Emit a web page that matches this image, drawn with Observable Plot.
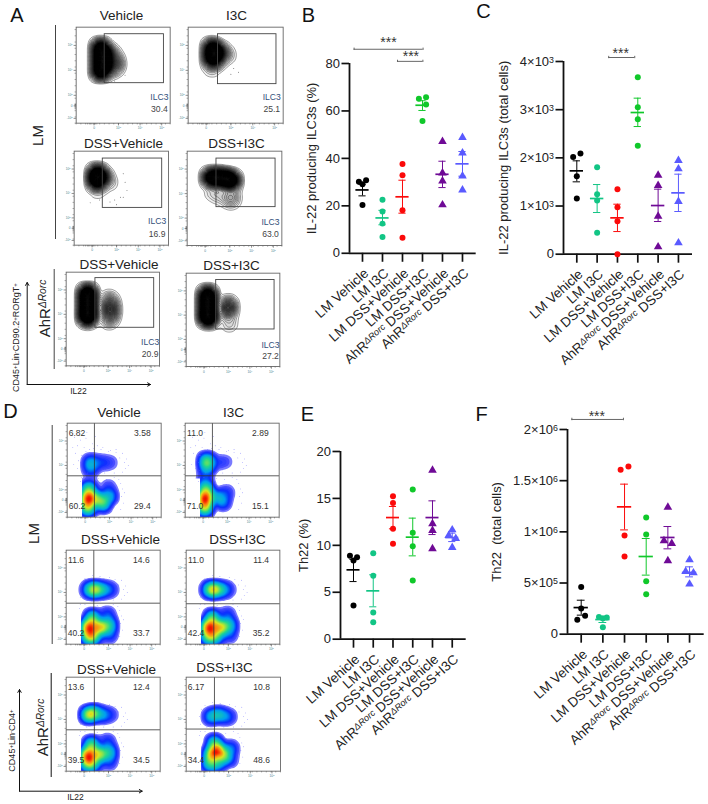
<!DOCTYPE html>
<html><head><meta charset="utf-8">
<script src="https://cdn.jsdelivr.net/npm/d3@7"></script>
<script src="https://cdn.jsdelivr.net/npm/@observablehq/plot@0.6"></script>
<style>html,body{margin:0;padding:0;background:#fff}#page{position:relative;width:708px;height:804px;overflow:hidden}</style>
</head><body><div id="page"></div>
<script>
const groupLabels = ["LM Vehicle","LM I3C","LM DSS+Vehicle","LM DSS+I3C","AhR^{ΔRorc} DSS+Vehicle","AhR^{ΔRorc} DSS+I3C"];
const groupColors = ["#000000","#12c585","#fb0a0a","#10c82a","#6f0a96","#5a5aff"];

// Panel B
const valuesB = [[30.1,30.8,29.1,20.4],[22.6,17.6,12.5,6.9],[37.6,32.9,18.1,6.5],[65.1,65.8,62.7,55.8],[47.1,33.8,30.5,20.4],[48.8,42.3,32.6,26.7]];
const swarmB  = [[-.18,.18,0,0],[0,0,0,0],[0,0,0,0],[-.18,.18,.18,0],[0,0,0,0],[0,0,0,0]];
const meanB = [26.7,14.9,23.8,62.4,33.3,37.7];
const upperB = [29.1,18.1,30.8,64.3,38.8,42.9];
const lowerB = [24.2,12,16.9,60.2,27.7,32.5];
const ticksB = [0,20,40,60,80];
const tickLabelsB = ["0","20","40","60","80"];
const bracketsB = [{a:-.42,b:3.03,v:86,sx:1.3,sv:89.6},{a:1.75,b:3.02,v:80.9,sx:2.42,sv:83.6}];

// Panel C
const valuesC = [[2020,2090,1620,1156],[1806,1246,1114,443],[1350,976,685,0],[3675,3052,2803,2249],[1640,1425,789,152],[1945,1771,1093,235]];
const swarmC  = [[-.18,.18,0,0],[0,0,0,0],[0,0,0,0],[0,0,0,0],[0,0,0,0],[0,0,0,0]];
const meanC = [1730,1156,754,2941,1010,1273];
const upperC = [1938,1446,1038,3239,1350,1661];
const lowerC = [1502,865,470,2650,678,886];
const ticksC = [0,1000,2000,3000,4000];
const tickLabelsC = ["0","1×10^{3}","2×10^{3}","3×10^{3}","4×10^{3}"];
const bracketsC = [{a:1.57,b:2.85,v:4083,sx:2.16,sv:4210}];

// Panel E
const valuesE = [[8.88,8.74,8.38,3.59],[9.16,6.75,2.84,1.81],[15.24,14.5,11.76,10.16],[15.95,11.33,9.91,6.25],[18,12.3,11.58,9.63],[11.65,11.05,10.73,9.77]];
const swarmE  = [[-.18,.18,0,0],[0,0,0,0],[0,0,0,0],[0,0,0,0],[0,0,0,0],[0,-.18,.18,0]];
const meanE = [7.39,5.15,12.96,10.87,12.96,10.83];
const upperE = [8.5,6.86,14.14,12.9,14.74,11.3];
const lowerE = [6.14,3.45,11.76,8.88,11.15,10.4];
const ticksE = [0,5,10,15,20];
const tickLabelsE = ["0","5","10","15","20"];
const bracketsE = [];

// Panel F
const valuesF = [[462e3,251e3,179e3,140e3],[169e3,163e3,153e3,68e3],[1606e3,1638e3,964e3,759e3],[1140e3,974e3,518e3,391e3],[1241e3,912e3,886e3,717e3],[726e3,612e3,599e3,489e3]];
const swarmF  = [[0,0,.18,-.18],[-.18,.18,0,0],[-.18,.18,0,0],[0,0,0,0],[0,-.18,.18,0],[0,-.18,.18,0]];
const meanF = [260e3,143e3,1244e3,759e3,945e3,603e3];
const upperF = [332e3,175e3,1466e3,935e3,1052e3,658e3];
const lowerF = [186e3,114e3,1019e3,577e3,834e3,560e3];
const ticksF = [0,5e5,1e6,1.5e6,2e6];
const tickLabelsF = ["0","5×10^{5}","1×10^{6}","1.5×10^{6}","2×10^{6}"];
const bracketsF = [{a:-.43,b:1.95,v:2.098e6,sx:.72,sv:2.15e6}];

// Flow panels: populations as [x %, y %, weight]
const popA1 = [[26,78,3],[26,66,3],[26,54,3],[31,72,1.5],[31,60,1.5],[41,68,.4],[41,62,.55],[39,55,.35],[37,74,.4],[44,60,.25]];
const popA2 = [[25,78,3],[25,68,3],[31,75,2],[31,66,1],[24,58,.35],[42,70,.25],[38,74,.4],[28,54,.06]];
const popA3 = [[24,76,3],[24,68,3],[30,74,1],[34,70,.35],[39,66,.15],[24,56,.15],[32,58,.05]];
const popA4 = [[25,72,3],[33,72,3],[41,71,3],[47,69,3],[26,56,.22],[32,52,.15],[38,52,.18],[47,54,.4],[48,48,.3],[44,46,.15]];
const popA5 = [[23,77,3],[23,66,3],[23,55,3],[23,50,1],[46,72,.3],[48,66,.5],[48,60,.6],[48,54,.5],[46,48,.3],[40,62,.3]];
const popA6 = [[23,76,3],[23,65,3],[23,54,3],[24,50,1],[45,66,.8],[45,60,.7],[46,46,.25],[38,58,.1]];
const specksA1 = [[52,50],[41,44]];
const specksA2 = [[48,57],[53,53],[45,51]];
const specksA3 = [[52,76],[54,67],[56,58],[49,51],[43,48],[38,46],[45,43],[52,51],[17,45],[27,48]];
const specksNone = [];
const popD1 = [[25,58,.8],[25,50,.4],[36,58,.35],[46,58,.2],[22,10,2],[22,20,3],[23,30,1.5],[32,20,1.4],[38,14,1.3],[45,22,.8],[44,32,.25]];
const popD2 = [[23,60,1.4],[23,52,.8],[34,58,.2],[43,59,.15],[21,40,.3],[21,10,2],[21,20,3],[22,30,1.5],[33,22,.7],[40,16,.6],[44,26,.3]];
const popD3 = [[30,58,1.5],[24,58,.6],[38,58,.8],[47,58,.35],[24,18,2.6],[24,8,1.5],[28,28,1.3],[36,18,2],[46,20,1],[30,8,1],[46,10,.4],[44,31,.4]];
const popD4 = [[29,58,1.5],[24,58,.7],[37,58,.9],[45,58,.25],[24,18,2.6],[24,8,1.5],[28,28,1.3],[36,18,2],[46,20,.9],[32,8,1],[46,10,.35],[44,31,.35]];
const popD5 = [[24,60,1.7],[30,62,.9],[38,60,.6],[47,60,.25],[23,17,2.6],[23,8,1.5],[27,28,1.4],[35,18,1.8],[46,20,.9],[30,8,.8],[46,10,.35],[44,31,.35]];
const popD6 = [[26,58,.9],[34,60,1],[42,58,.6],[48,58,.15],[27,18,2.6],[25,8,1.5],[34,22,2.4],[30,30,1.6],[40,16,1.7],[47,24,.7],[34,8,1],[47,12,.35]];
// Sparse events around the clusters, shared by the plots of panel D, and the loose upper-left events of the LM plots
const specksRim = [[15,42],[14,38],[57,36],[59,30],[58,22],[60,15],[57,8],[61,26],[55,40],[50,42],[20,42],[33,41],[42,40],[61,58],[63,62],[59,68],[52,69],[46,71],[36,72],[28,73],[20,70],[16,66],[14,58],[15,50],[65,55],[59,48],[50,47],[40,47],[30,46],[22,47],[56,63],[62,52]];
const specksLoose = [[8,85],[14,82],[20,84],[27,78],[11,76],[18,74],[24,72],[9,68],[15,66],[12,60],[32,76],[38,74],[44,70],[52,72],[21,90],[30,86],[6,74],[11,52],[7,56]];

const ilc3Percent = ["30.4","25.1","16.9","63.0","20.9","27.2"];
const th22Percent = [["6.82","3.58","60.2","29.4"],["11.0","2.89","71.0","15.1"],["11.6","14.6","40.2","33.7"],["11.0","11.4","42.4","35.2"],["13.6","12.4","39.5","34.5"],["6.17","10.8","34.4","48.6"]];
const flowMajorX = [19,45,68,91];
const flowMajorY = [5,18,29,55,81];
const flowLabelsX = ["0","10^{3}","10^{4}","10^{5}"];
const flowLabelsY = ["-10^{3}","0","10^{3}","10^{4}","10^{5}"];

const FONT = "'Liberation Sans', Arial, sans-serif";
const page = document.getElementById("page");

function rich(svg){
  d3.select(svg).selectAll("text").each(function(){
    const s = this.textContent;
    if(!s.includes("^{")) return;
    const parts = s.split(/\^\{(.*?)\}/);
    const el = d3.select(this); el.text(null);
    parts.forEach((p,i)=>{
      if(!p) return;
      const t = el.append("tspan").text(p);
      if(i%2){ t.attr("font-size","68%").attr("baseline-shift","38%");
        if(/[A-Za-z]/.test(p)) t.attr("font-style","italic"); }
    });
  });
  return svg;
}
function place(svg,left,top,w,h){
  rich(svg);
  Object.assign(svg.style,{position:"absolute",left:left+"px",top:top+"px",background:"none",overflow:"visible",maxWidth:"none"});
  if(w){svg.style.width=w+"px";svg.style.height=h+"px";}
  page.appendChild(svg);
}

function dotPanel(c){
  const {values,swarm,mean,upper,lower,ticks,tickLabels,brackets,yLabel,axisX,end,tick0,step,top,bottom,max,labelX,labelDy=18} = c;
  const mL=85,mR=10,mT=36,mB=130;
  const w=mL+(end-axisX)+mR, h=mT+(bottom-top)+mB;
  const pts=[]; values.forEach((vs,i)=>vs.forEach((v,j)=>pts.push({i,g:groupLabels[i],x:i+swarm[i][j],v})));
  const summ=groupLabels.map((g,i)=>({i,g,m:mean[i],u:upper[i],l:lower[i]}));
  const tf=d=>tickLabels[ticks.indexOf(d)];
  const idx=d3.range(6);
  const svg=Plot.plot({
    width:w,height:h,marginLeft:mL,marginRight:mR,marginTop:mT,marginBottom:mB,
    style:{fontFamily:FONT,color:"#111"},
    x:{domain:[-(tick0-axisX)/step,(end-tick0)/step],axis:null},
    y:{domain:[0,max],axis:null},
    color:{domain:groupLabels,range:groupColors},
    marks:[
      Plot.axisY({ticks,tickFormat:tf,tickSize:7.5,tickPadding:2,fontSize:13,label:null,strokeWidth:1.7,stroke:"#111",fill:"#222"}),
      Plot.axisX({ticks:idx,tickFormat:()=>"",tickSize:9,label:null,strokeWidth:1.7,stroke:"#111"}),
      Plot.ruleX([-(tick0-axisX)/step],{stroke:"#111",strokeWidth:1.8}),
      Plot.ruleY([0],{stroke:"#111",strokeWidth:1.8}),
      Plot.dot(pts.filter(d=>d.i<4),{x:"x",y:"v",r:3,fill:"g"}),
      Plot.dot(pts.filter(d=>d.i>=4),{x:"x",y:"v",r:3.2,symbol:"triangle",fill:"g"}),
      Plot.ruleX(summ,{x:"i",y1:"l",y2:"u",stroke:"g",strokeWidth:1}),
      Plot.ruleY(summ,{y:"m",x1:d=>d.i-.33,x2:d=>d.i+.33,stroke:"g",strokeWidth:1.7}),
      Plot.ruleY(summ,{y:"u",x1:d=>d.i-.18,x2:d=>d.i+.18,stroke:"g",strokeWidth:1}),
      Plot.ruleY(summ,{y:"l",x1:d=>d.i-.18,x2:d=>d.i+.18,stroke:"g",strokeWidth:1}),
      Plot.ruleY(brackets,{y:"v",x1:"a",x2:"b",stroke:"#666",strokeWidth:1}),
      Plot.ruleX(brackets,{x:"a",y1:d=>d.v-max*.006,y2:d=>d.v+max*.006,stroke:"#666",strokeWidth:1}),
      Plot.ruleX(brackets,{x:"b",y1:d=>d.v-max*.006,y2:d=>d.v+max*.006,stroke:"#666",strokeWidth:1}),
      Plot.text(brackets,{x:"sx",y:"sv",text:()=>"***",fontSize:14,fill:"#333",dy:2}),
      Plot.text(idx,{x:d=>d,y:()=>0,text:d=>groupLabels[d],textAnchor:"end",rotate:-42,fontSize:13.5,dx:4,dy:labelDy,fill:"#222"}),
      Plot.text([yLabel],{frameAnchor:"left",textAnchor:"middle",rotate:-90,dx:labelX-axisX,fontSize:13,fill:"#222"})
    ]
  });
  place(svg,axisX-mL,top-mT);
}

const S=3;
function flowBase(c,layers,extras){
  const [l,t,w,h]=c.frame, mL=12,mR=2,mT=2,mB=12;
  const minor=d3.range(0,101,5).concat([12,14,16,18,20,22]);
  const minorY=d3.range(0,101,6.5).concat([15,16,17,18,19,20]);
  const svg=Plot.plot({
    width:(w+mL+mR)*S,height:(h+mT+mB)*S,
    marginLeft:mL*S,marginRight:mR*S,marginTop:mT*S,marginBottom:mB*S,
    style:{fontFamily:FONT},
    x:{domain:[0,100],axis:null},y:{domain:[0,100],axis:null},
    color:c.color,
    marks:[
      ...layers,
      Plot.axisX({ticks:minor,tickFormat:()=>"",tickSize:1.4*S,label:null,strokeWidth:.4*S,stroke:"#222"}),
      Plot.axisY({ticks:minorY,tickFormat:()=>"",tickSize:1.4*S,label:null,strokeWidth:.4*S,stroke:"#222"}),
      Plot.axisX({ticks:flowMajorX,tickFormat:d=>flowLabelsX[flowMajorX.indexOf(d)],tickSize:2.4*S,tickPadding:1.5*S,fontSize:3.2*S,fill:"#3f7f8f",label:null,strokeWidth:.5*S,stroke:"#222"}),
      Plot.axisY({ticks:flowMajorY,tickFormat:d=>flowLabelsY[flowMajorY.indexOf(d)],tickSize:2.4*S,tickPadding:1.2*S,fontSize:3.2*S,fill:"#3f7f8f",label:null,strokeWidth:.5*S,stroke:"#222"}),
      ...extras,
      Plot.frame({stroke:"#666",strokeWidth:.9*S})
    ]
  });
  place(svg,l-mL,t-mT,w+mL+mR,h+mT+mB);
}
const inkRamp=t=>{const k=Math.min(1,Math.pow(t/.42,.9));const v=Math.round(250*(1-k)+14*k);return `rgb(${v},${v},${v})`;};
function contourPanel(c){
  c.color={type:"linear",interpolate:inkRamp};
  flowBase(c,[
    Plot.density(c.pop,{x:d=>d[0],y:d=>d[1],weight:d=>d[2],bandwidth:4.4*S,thresholds:64,fill:"density",stroke:"#000",strokeWidth:.36*S,clip:true}),
    Plot.dot(c.specks,{x:d=>d[0],y:d=>d[1],r:.45*S,fill:"#222"})
  ],[
    Plot.rect([c.gate],{x1:d=>d[0],x2:d=>d[1],y1:d=>d[2],y2:d=>d[3],stroke:"#444",strokeWidth:.9*S,fill:"none"}),
    Plot.text(["ILC3"],{x:()=>c.lab[0],y:()=>c.lab[1],text:d=>d,fontSize:8.6*S,fill:"#33507a"}),
    Plot.text([c.value],{x:()=>c.lab[0],y:()=>c.lab[2],text:d=>d,fontSize:8.6*S,fill:"#444"})
  ]);
}
const heatScale=d3.scaleLinear().domain([0,.025,.09,.2,.4,.66,.85,1]).range(["#cfd2ff","#5050ff","#0a2cff","#00a0f0","#20d890","#d8e820","#ff8010","#f01000"]).interpolate(d3.interpolateRgb).clamp(true);
const heatRamp=t=>heatScale(t);
function heatPanel(c){
  c.color={type:"linear",interpolate:heatRamp};
  const q=[[10.5,89,0],[80,89,1],[10.5,12,2],[80,12,3]];
  flowBase(c,[
    Plot.density(c.pop,{x:d=>d[0],y:d=>d[1],weight:d=>d[2],bandwidth:4*S,thresholds:60,fill:"density",stroke:"none",clip:true}),
    Plot.rect([c.cross],{x1:()=>0,x2:()=>16,y1:()=>0,y2:d=>d[1]-3,fill:"#fff"}),
    Plot.dot(specksRim.concat(c.loose?specksLoose:[]),{x:d=>d[0],y:d=>d[1],r:.4*S,fill:"#6a6aff"})
  ],[
    Plot.ruleX([c.cross[0]],{stroke:"#333",strokeWidth:.8*S}),
    Plot.ruleY([c.cross[1]],{stroke:"#333",strokeWidth:.8*S}),
    Plot.text(q,{x:d=>d[0],y:d=>d[1],text:d=>c.values[d[2]],fontSize:8.5*S,fill:"#333"})
  ]);
}

dotPanel({values:valuesB,swarm:swarmB,mean:meanB,upper:upperB,lower:lowerB,ticks:ticksB,tickLabels:tickLabelsB,brackets:bracketsB,yLabel:"IL-22 producing ILC3s (%)",axisX:349.3,end:476,tick0:362.3,step:20,top:62.7,bottom:252.5,max:80,labelX:312});
dotPanel({values:valuesC,swarm:swarmC,mean:meanC,upper:upperC,lower:lowerC,ticks:ticksC,tickLabels:tickLabelsC,brackets:bracketsC,yLabel:"IL-22 producing ILC3s (total cells)",axisX:562.7,end:691.7,tick0:576,step:20.33,top:61.3,bottom:254,max:4000,labelX:503});
dotPanel({values:valuesE,swarm:swarmE,mean:meanE,upper:upperE,lower:lowerE,ticks:ticksE,tickLabels:tickLabelsE,brackets:bracketsE,yLabel:"Th22 (%)",axisX:340,end:465.7,tick0:353,step:19.75,top:451,bottom:638.7,max:20,labelX:303});
dotPanel({values:valuesF,swarm:swarmF,mean:meanF,upper:upperF,lower:lowerF,ticks:ticksF,tickLabels:tickLabelsF,brackets:bracketsF,yLabel:"Th22\u00a0\u00a0(total cells)",axisX:567.3,end:704,tick0:581,step:21.67,top:429.3,bottom:634,max:2e6,labelX:497});

[
 {frame:[76,26.7,94,96],gate:[30,93,42,93],lab:[88.6,27,14],pop:popA1,specks:specksA1},
 {frame:[187.7,26.7,95,96],gate:[31,92.6,41,93],lab:[88,27,14],pop:popA2,specks:specksA2},
 {frame:[74,151,94.3,94],gate:[30,93,40,92.5],lab:[88,25,12],pop:popA3,specks:specksA3},
 {frame:[187.3,150.7,94.7,94.3],gate:[30.6,93,41,92.5],lab:[88,25,12],pop:popA4,specks:specksNone},
 {frame:[66,272.3,93.3,93.7],gate:[31,94,41,94],lab:[90,25,12],pop:popA5,specks:specksNone},
 {frame:[185.7,273.3,93.7,93.3],gate:[31.7,94,40,93],lab:[90,23,11],pop:popA6,specks:specksNone}
].forEach((c,i)=>{c.value=ilc3Percent[i];contourPanel(c);});

[
 {frame:[66.7,423.3,94,94],cross:[29,44],pop:popD1,loose:true},
 {frame:[185.3,423.3,94,94],cross:[29,44],pop:popD2,loose:true},
 {frame:[66,550.3,94,94],cross:[29.4,43.6],pop:popD3},
 {frame:[185.7,550.3,93.7,94],cross:[29.5,43],pop:popD4},
 {frame:[66,677.3,94,94],cross:[30,44],pop:popD5},
 {frame:[185.7,677.3,94.3,94],cross:[30,44.8],pop:popD6}
].forEach((c,i)=>{c.values=th22Percent[i];heatPanel(c);});

// Page furniture: panel letters, titles, group labels, separators, axis arrows
const letters=[["A",16.5,15],["B",308,15],["C",483,11],["D",10,411],["E",307,414],["F",481,414]];
const titles=[["Vehicle",121,15],["I3C",236,15],["DSS+Vehicle",123,143],["DSS+I3C",236,143],["DSS+Vehicle",118.5,264],["DSS+I3C",231,265],
 ["Vehicle",118.5,412],["I3C",233,412],["DSS+Vehicle",120,539.5],["DSS+I3C",237,539.5],["DSS+Vehicle",116,669],["DSS+I3C",224,667.5]];
const sideLabels=[["LM",38,135,15],["AhR^{ΔRorc}",45,308,15],["LM",34,533,15],["AhR^{ΔRorc}",43,727,15]];
const smallY=[["CD45^{+}Lin^{-}CD90.2^{+}RORgT^{+}",16,337],["CD45^{+}Lin^{-}CD4^{+}",12,740]];
const smallX=[["IL22",78,391],["IL22",75,797]];
const separators=[[55,25,239,"#444"],[53.7,269,369,"#444"],[51.7,425,644,"#444"],[50.7,673,777,"#111"]];
const arrows=[[26.7,384,26.7,282],[26.7,384,150,384],[19,790.7,19,689],[19,790.7,141.7,790.7]];
place(Plot.plot({
  width:708,height:804,margin:0,style:{fontFamily:FONT},
  x:{type:"identity",axis:null},y:{type:"identity",axis:null},
  marks:[
    Plot.text(letters,{x:d=>d[1],y:d=>d[2],text:d=>d[0],fontSize:20,fill:"#111"}),
    Plot.text(titles,{x:d=>d[1],y:d=>d[2],text:d=>d[0],fontSize:13.5,fill:"#222"}),
    Plot.text(sideLabels,{x:d=>d[1],y:d=>d[2],text:d=>d[0],fontSize:d=>d[3],rotate:-90,fill:"#222"}),
    Plot.text(smallY,{x:d=>d[1],y:d=>d[2],text:d=>d[0],fontSize:9,rotate:-90,fill:"#222"}),
    Plot.text(smallX,{x:d=>d[1],y:d=>d[2],text:d=>d[0],fontSize:8.5,fill:"#222"}),
    Plot.ruleX(separators,{x:d=>d[0],y1:d=>d[1],y2:d=>d[2],stroke:d=>d[3],strokeWidth:1}),
    Plot.arrow(arrows,{x1:d=>d[0],y1:d=>d[1],x2:d=>d[2],y2:d=>d[3],bend:0,stroke:"#111",strokeWidth:1,headLength:5})
  ]
}),0,0);
</script></body></html>
